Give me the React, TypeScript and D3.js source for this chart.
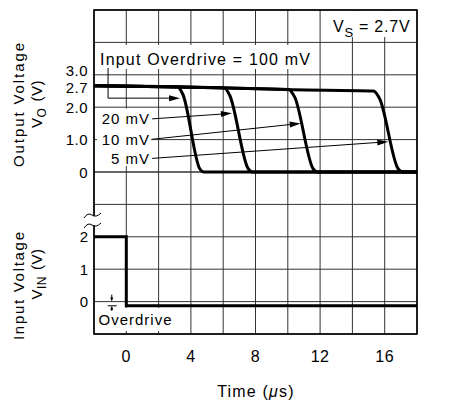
import React from "react";
import * as d3 from "d3";

// time axis (µs)
const timeTicks = [0, 4, 8, 12, 16];

// output voltage traces (top panel), one per input overdrive
const outTime100 = [-2, 3.15, 3.5, 4.55, 4.8, 18];
const outVolt100 = [2.66, 2.63, 2.4, 0.1, 0, 0];
const outTime20 = [-2, 3.4, 6.05, 6.4, 7.55, 7.8, 18];
const outVolt20 = [2.66, 2.62, 2.6, 2.37, 0.1, 0, 0];
const outTime10 = [-2, 3.4, 6.3, 10.05, 10.42, 11.57, 11.82, 18];
const outVolt10 = [2.66, 2.62, 2.59, 2.55, 2.32, 0.1, 0, 0];
const outTime5 = [-2, 3.4, 6.3, 10.3, 15.3, 15.68, 16.83, 17.1, 18];
const outVolt5 = [2.66, 2.62, 2.59, 2.54, 2.5, 2.27, 0.1, 0, 0];

const outTicks = [0, 1, 2, 2.7, 3];
const outTickLabels = ["0", "1.0", "2.0", "2.7", "3.0"];

// input voltage step (bottom panel)
const inTime = [-2, 0, 0, 18];
const inVolt = [2, 2, -0.13, -0.13];
const inTicks = [0, 1, 2];
const inTickLabels = ["0", "1", "2"];

// leader arrows for the overdrive labels
const arrowLabels = ["20 mV", "10 mV", "5 mV"];
const arrowFromT = [1.6, 1.6, 1.6];
const arrowFromV = [1.64, 1.01, 0.42];
const arrowTipT = [6.54, 10.8, 16.22];
const arrowTipV = [1.81, 1.5, 0.935];

const font = "'Liberation Sans', Arial, sans-serif";

function head(x1: number, y1: number, x2: number, y2: number, len = 11, hw = 3) {
  const a = Math.atan2(y2 - y1, x2 - x1);
  const bx = x2 - len * Math.cos(a);
  const by = y2 - len * Math.sin(a);
  const px = -Math.sin(a) * hw;
  const py = Math.cos(a) * hw;
  return `${x2},${y2} ${bx + px},${by + py} ${bx - px},${by - py}`;
}

export default function App() {
  const width = 450;
  const height = 403;
  const left = 94, right = 417, top = 10, mid = 172, bottom = 334;

  const x = d3.scaleLinear().domain([-2, 18]).range([left, right]);
  const yOut = d3.scaleLinear().domain([0, 5]).range([mid, top]);
  const yIn = d3.scaleLinear().domain([-1, 4]).range([bottom, mid]);

  const outLine = d3
    .line<number[]>()
    .x((d) => x(d[0]))
    .y((d) => yOut(d[1]))
    .curve(d3.curveMonotoneX);
  const inLine = d3
    .line<number[]>()
    .x((d) => x(d[0]))
    .y((d) => yIn(d[1]));

  const traces = [
    [outTime100, outVolt100],
    [outTime20, outVolt20],
    [outTime10, outVolt10],
    [outTime5, outVolt5],
  ].map(([t, v]) => t.map((ti, i) => [ti, v[i]]));

  const vGrid = x.ticks(10);
  const hGrid = [...yOut.ticks(5).map((v) => yOut(v)), ...yIn.ticks(5).map((v) => yIn(v))];

  // "Input Overdrive = 100 mV" leader
  const ovX = x(-1.13);
  const ovY0 = yOut(3.21);
  const ovY1 = yOut(2.28);
  const ovTip = x(3.33);

  // overdrive dimension marker
  const mX = x(-0.9);
  const y0 = yIn(0);
  const yOd = yIn(-0.13);

  return (
    <div style={{ position: "absolute", left: 0, top: 0 }}>
      <svg width={width} height={height} style={{ display: "block", background: "#fff" }} fontFamily={font}>
        {/* grid */}
        <g stroke="#333" strokeWidth={1}>
          {vGrid.map((t) => (
            <line key={"v" + t} x1={x(t)} x2={x(t)} y1={top} y2={bottom} />
          ))}
          {hGrid.map((y, i) => (
            <line key={"h" + i} x1={left} x2={right} y1={y} y2={y} />
          ))}
        </g>

        {/* label backgrounds */}
        <g fill="#fff">
          <rect x={96} y={45} width={218} height={24} />
          <rect x={321} y={11} width={95} height={26} />
          <rect x={97} y={108.5} width={54} height={57.5} />
          <rect x={95} y={308} width={90} height={23} />
        </g>

        {/* annotations */}
        <g fill="#000" fontSize={15}>
          <text x={100} y={65} fontSize={16} textLength={210} lengthAdjust="spacing">
            Input Overdrive = 100 mV
          </text>
          <text x={333} y={32} fontSize={16} letterSpacing={0.8}>
            V<tspan dy={5} fontSize={13}>S</tspan>
            <tspan dy={-5} dx={5}>= 2.7V</tspan>
          </text>
          {arrowLabels.map((lab, i) => (
            <text
              key={lab}
              x={x(arrowFromT[i]) - 2}
              y={yOut(arrowFromV[i]) + 5.5}
              textAnchor="end"
              letterSpacing={1}
            >
              {lab}
            </text>
          ))}
          <text x={98.5} y={325} textLength={73} lengthAdjust="spacing">
            Overdrive
          </text>
        </g>

        <g stroke="#000" strokeWidth={1} fill="none">
          <polyline points={`${ovX},${ovY0} ${ovX},${ovY1} ${ovTip - 8},${ovY1}`} />
          {arrowLabels.map((lab, i) => (
            <line
              key={lab}
              x1={x(arrowFromT[i])}
              y1={yOut(arrowFromV[i])}
              x2={x(arrowTipT[i]) - 8}
              y2={yOut(arrowTipV[i]) + ((yOut(arrowFromV[i]) - yOut(arrowTipV[i])) * 8) / (x(arrowTipT[i]) - x(arrowFromT[i]))}
            />
          ))}
          <line x1={mX} x2={mX} y1={y0 - 7} y2={y0 - 2} />
          <line x1={mX} x2={mX} y1={yOd + 5} y2={yOd + 2} />
          <line x1={mX - 4} x2={mX + 5} y1={yOd} y2={yOd} />
        </g>
        <g fill="#000">
          <polygon points={head(ovX, ovY1, ovTip, ovY1)} />
          {arrowLabels.map((lab, i) => (
            <polygon
              key={lab}
              points={head(x(arrowFromT[i]), yOut(arrowFromV[i]), x(arrowTipT[i]), yOut(arrowTipV[i]))}
            />
          ))}
          <polygon points={head(mX, y0 - 7, mX, y0, 4, 1.5)} />
          <polygon points={head(mX, yOd + 7, mX, yOd, 4, 1.5)} />
        </g>

        {/* traces */}
        <g fill="none" stroke="#000" strokeWidth={3} strokeLinejoin="round">
          {traces.map((d, i) => (
            <path key={i} d={outLine(d) ?? ""} />
          ))}
          <path d={inLine(inTime.map((t, i) => [t, inVolt[i]])) ?? ""} strokeLinejoin="miter" />
        </g>

        {/* frame */}
        <rect x={left} y={top} width={right - left} height={bottom - top} fill="none" stroke="#000" strokeWidth={1.6} />

        {/* axis break */}
        <g>
          <path d="M84,218 Q88,212 92,215 T101,213 L101,224 Q97,226 92,225 T84,228 Z" fill="#fff" stroke="none" />
          <path d="M84,218 q4,-6 8,-3 t9,-2" fill="none" stroke="#000" strokeWidth={1} />
          <path d="M84,228 q4,-6 8,-3 t9,-2" fill="none" stroke="#000" strokeWidth={1} />
        </g>

        {/* y tick labels */}
        <g fontSize={15} textAnchor="end" fill="#000">
          {outTicks.map((v, i) => (
            <text
              key={"o" + i}
              x={88}
              y={yOut(v) + 5.5 + (v === 3 ? -4 : v === 2.7 ? 2.5 : 0)}
              letterSpacing={0.5}
            >
              {outTickLabels[i]}
            </text>
          ))}
          {inTicks.map((v, i) => (
            <text key={"i" + i} x={88} y={yIn(v) + 5.5}>
              {inTickLabels[i]}
            </text>
          ))}
        </g>

        {/* x tick labels */}
        <g fontSize={16} textAnchor="middle" fill="#000">
          {timeTicks.map((t) => (
            <text key={t} x={x(t)} y={362} letterSpacing={0.5}>
              {t}
            </text>
          ))}
          <text x={256} y={397} letterSpacing={1.2}>
            Time (<tspan fontStyle="italic">μ</tspan>s)
          </text>
        </g>

        {/* y titles */}
        <g fontSize={15} textAnchor="middle" fill="#000">
          <text transform="translate(24,105) rotate(-90)" textLength={124} lengthAdjust="spacing">
            Output Voltage
          </text>
          <text transform="translate(41.5,104) rotate(-90)" letterSpacing={0.5}>
            V<tspan dy={4} fontSize={12}>O</tspan>
            <tspan dy={-4} dx={6}>(V)</tspan>
          </text>
          <text transform="translate(24,286) rotate(-90)" textLength={108} lengthAdjust="spacing">
            Input Voltage
          </text>
          <text transform="translate(41.5,274) rotate(-90)" letterSpacing={0.5}>
            V<tspan dy={4} fontSize={12}>IN</tspan>
            <tspan dy={-4} dx={6}>(V)</tspan>
          </text>
        </g>
      </svg>
    </div>
  );
}
